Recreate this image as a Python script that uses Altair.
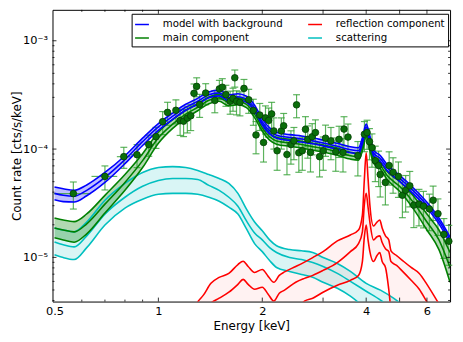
import altair as alt
import pandas as pd

# ---------------- data ----------------
E_MODEL = [0.5, 0.53, 0.57, 0.62, 0.7, 0.8, 0.9, 1.0, 1.1, 1.2, 1.3, 1.4, 1.5, 1.6, 1.7,
           1.8, 1.9, 2.0, 2.1, 2.2, 2.4, 2.6, 2.8, 3.0, 3.3, 3.6, 3.8, 3.9, 4.0, 4.1,
           4.2, 4.4, 4.6, 4.8, 5.0, 5.5, 6.0, 6.5, 7.0]

BLUE_MID = [3.9e-5, 3.75e-5, 3.67e-5, 4.16e-5, 5.47e-5, 7.98e-5, 1.17e-4, 1.6e-4, 2.01e-4, 2.43e-4,
            2.76e-4, 3.17e-4, 3.30e-4, 2.97e-4, 3.04e-4, 2.88e-4, 2.38e-4, 1.78e-4, 1.47e-4, 1.34e-4,
            1.28e-4, 1.24e-4, 1.19e-4, 1.14e-4, 1.06e-4, 9.85e-5, 9.65e-5, 1.19e-4, 1.6e-4, 1.24e-4,
            9.25e-5, 8.15e-5, 6.75e-5, 5.95e-5, 5.36e-5, 4.07e-5, 3.03e-5, 2.17e-5, 1.45e-5]
BLUE_HI = [4.47e-5, 4.30e-5, 4.16e-5, 4.66e-5, 6.08e-5, 8.68e-5, 1.26e-4, 1.72e-4, 2.15e-4, 2.59e-4,
           2.94e-4, 3.37e-4, 3.51e-4, 3.17e-4, 3.24e-4, 3.07e-4, 2.54e-4, 1.90e-4, 1.57e-4, 1.43e-4,
           1.36e-4, 1.32e-4, 1.27e-4, 1.21e-4, 1.13e-4, 1.05e-4, 1.03e-4, 1.27e-4, 1.70e-4, 1.32e-4,
           9.85e-5, 8.68e-5, 7.19e-5, 6.34e-5, 5.71e-5, 4.33e-5, 3.23e-5, 2.31e-5, 1.54e-5]
BLUE_LO = [3.40e-5, 3.27e-5, 3.24e-5, 3.71e-5, 4.92e-5, 7.33e-5, 1.08e-4, 1.49e-4, 1.88e-4, 2.28e-4,
           2.59e-4, 2.97e-4, 3.10e-4, 2.79e-4, 2.85e-4, 2.70e-4, 2.24e-4, 1.67e-4, 1.38e-4, 1.26e-4,
           1.20e-4, 1.16e-4, 1.12e-4, 1.07e-4, 9.95e-5, 9.25e-5, 9.06e-5, 1.12e-4, 1.50e-4, 1.16e-4,
           8.69e-5, 7.65e-5, 6.34e-5, 5.59e-5, 5.03e-5, 3.82e-5, 2.85e-5, 2.04e-5, 1.36e-5]

GREEN_MID = [1.87e-5, 1.79e-5, 1.72e-5, 2.04e-5, 3.1e-5, 4.92e-5, 7.82e-5, 1.27e-4, 1.70e-4, 2.10e-4,
             2.43e-4, 2.82e-4, 2.97e-4, 2.70e-4, 2.76e-4, 2.59e-4, 2.10e-4, 1.57e-4, 1.30e-4, 1.19e-4,
             1.14e-4, 1.10e-4, 1.05e-4, 1.01e-4, 9.45e-5, 8.69e-5, 8.5e-5, 1.03e-4, 1.38e-4, 1.05e-4,
             7.98e-5, 7.04e-5, 5.71e-5, 5.03e-5, 4.53e-5, 3.17e-5, 2.12e-5, 1.45e-5, 8.07e-6]
GREEN_HI = [2.31e-5, 2.21e-5, 2.14e-5, 2.52e-5, 3.74e-5, 5.82e-5, 9.06e-5, 1.43e-4, 1.87e-4, 2.28e-4,
            2.61e-4, 3.03e-4, 3.20e-4, 2.91e-4, 2.97e-4, 2.79e-4, 2.26e-4, 1.69e-4, 1.40e-4, 1.28e-4,
            1.23e-4, 1.18e-4, 1.13e-4, 1.09e-4, 1.02e-4, 9.35e-5, 9.15e-5, 1.11e-4, 1.48e-4, 1.13e-4,
            8.59e-5, 7.57e-5, 6.21e-5, 5.53e-5, 5.03e-5, 3.64e-5, 2.51e-5, 1.79e-5, 1.11e-5]
GREEN_LO = [1.52e-5, 1.45e-5, 1.38e-5, 1.65e-5, 2.57e-5, 4.16e-5, 6.75e-5, 1.13e-4, 1.55e-4, 1.93e-4,
            2.26e-4, 2.62e-4, 2.76e-4, 2.51e-4, 2.57e-4, 2.41e-4, 1.95e-4, 1.46e-4, 1.21e-4, 1.11e-4,
            1.06e-4, 1.02e-4, 9.76e-5, 9.39e-5, 8.78e-5, 8.08e-5, 7.9e-5, 9.57e-5, 1.28e-4, 9.76e-5,
            7.42e-5, 6.54e-5, 5.25e-5, 4.58e-5, 4.08e-5, 2.76e-5, 1.79e-5, 1.18e-5, 5.89e-6]

E_SCAT = [0.5, 0.53, 0.57, 0.62, 0.7, 0.8, 0.9, 1.0, 1.1, 1.2, 1.3, 1.4, 1.5, 1.6, 1.7,
          1.8, 1.9, 2.0, 2.1, 2.2, 2.4, 2.6, 2.8, 3.0, 3.3, 3.6, 4.0, 4.4, 4.8, 5.2]
CYAN_HI = [1.87e-5, 1.79e-5, 1.72e-5, 2.12e-5, 3.37e-5, 4.82e-5, 6.08e-5, 6.75e-5, 6.89e-5, 6.75e-5,
           6.34e-5, 5.82e-5, 5.35e-5, 4.82e-5, 3.9e-5, 2.79e-5, 2.12e-5, 1.76e-5, 1.45e-5, 1.28e-5,
           1.18e-5, 1.15e-5, 1.11e-5, 9.96e-6, 8.78e-6, 7.42e-6, 5.76e-6, 4.98e-6, 4.2e-6, 3.48e-6]
CYAN_MID = [1.39e-5, 1.31e-5, 1.25e-5, 1.58e-5, 2.51e-5, 3.59e-5, 4.53e-5, 5.13e-5, 5.35e-5, 5.35e-5,
            5.24e-5, 4.62e-5, 4.16e-5, 3.59e-5, 2.97e-5, 2.17e-5, 1.68e-5, 1.45e-5, 1.23e-5, 1.11e-5,
            9.96e-6, 9.55e-6, 8.96e-6, 8.24e-6, 7.11e-6, 6.01e-6, 4.87e-6, 4.03e-6, 3.27e-6, 2.7e-6]
CYAN_LO = [1.06e-5, 9.96e-6, 9.55e-6, 1.23e-5, 1.99e-5, 2.85e-5, 3.44e-5, 3.82e-5, 3.9e-5, 3.9e-5,
           3.82e-5, 3.59e-5, 3.3e-5, 2.91e-5, 2.51e-5, 1.83e-5, 1.34e-5, 1.13e-5, 9.35e-6, 8.07e-6,
           7.42e-6, 6.96e-6, 6.54e-6, 5.89e-6, 5.19e-6, 4.39e-6, 3.34e-6, 2.59e-6, 2.0e-6, 1.6e-6]

E_REFL = [1.25, 1.3, 1.35, 1.42, 1.5, 1.6, 1.7, 1.76, 1.82, 1.9, 2.0, 2.08, 2.16, 2.24, 2.32,
          2.5, 2.65, 2.8, 3.0, 3.3, 3.6, 3.8, 3.9, 3.95, 4.0, 4.05, 4.1, 4.2, 4.3, 4.38,
          4.45, 4.55, 4.65, 4.72, 4.9, 5.1, 5.4, 5.7, 6.0, 6.3, 6.5, 6.8]
RED_HI = [3.0e-6, 3.87e-6, 4.48e-6, 5.76e-6, 6.54e-6, 7.11e-6, 8.59e-6, 9.21e-6, 8.24e-6, 7.26e-6,
          7.74e-6, 6.68e-6, 5.89e-6, 6.82e-6, 7.34e-6, 8.24e-6, 9.05e-6, 9.96e-6, 1.13e-5, 1.42e-5,
          1.61e-5, 1.79e-5, 2.46e-5, 5.13e-5, 9.25e-5, 5.36e-5, 3.04e-5, 1.95e-5, 2.12e-5, 2.21e-5,
          1.87e-5, 1.58e-5, 1.45e-5, 1.15e-5, 1.04e-5, 9.35e-6, 8.07e-6, 7.11e-6, 5.64e-6, 4.39e-6,
          3.71e-6, 2.82e-6]
RED_MID = [2.19e-6, 2.7e-6, 3.2e-6, 3.79e-6, 4.2e-6, 4.77e-6, 5.64e-6, 6.27e-6, 5.64e-6, 5.08e-6,
           5.3e-6, 4.57e-6, 3.95e-6, 4.67e-6, 4.98e-6, 5.89e-6, 6.4e-6, 6.82e-6, 7.58e-6, 8.96e-6,
           1.13e-5, 1.34e-5, 1.72e-5, 3.04e-5, 3.91e-5, 2.91e-5, 2.12e-5, 1.45e-5, 1.55e-5, 1.58e-5,
           1.37e-5, 1.2e-5, 1.13e-5, 9.15e-6, 8.42e-6, 7.42e-6, 6.14e-6, 5.08e-6, 3.87e-6, 3.0e-6,
           2.59e-6, 2.0e-6]
RED_LO = [1.0e-6, 1.1e-6, 1.2e-6, 1.3e-6, 1.4e-6, 1.5e-6, 1.6e-6, 1.7e-6, 1.8e-6, 1.9e-6,
          2.0e-6, 2.1e-6, 2.2e-6, 2.4e-6, 2.6e-6, 3.1e-6, 3.95e-6, 4.2e-6, 4.77e-6, 5.53e-6,
          6.14e-6, 6.82e-6, 9.15e-6, 1.52e-5, 1.99e-5, 1.45e-5, 1.13e-5, 9.15e-6, 1.04e-5, 1.11e-5,
          9.15e-6, 8.07e-6, 5.08e-6, 3.34e-6, 2.5e-6, 2.0e-6, 1.6e-6, 1.3e-6, 1.1e-6, 1.0e-6,
          0.9e-6, 0.8e-6]

PT_E = [0.567, 0.700, 0.794, 0.867, 0.938, 0.984, 1.029, 1.063, 1.124, 1.156,
        1.183, 1.213, 1.241, 1.268, 1.291, 1.317, 1.371, 1.457, 1.502, 1.532,
        1.569, 1.614, 1.645, 1.665, 1.684, 1.723, 1.770, 1.827, 1.884, 1.918,
        1.967, 2.017, 2.043, 2.087, 2.129, 2.160, 2.208, 2.271, 2.307, 2.358,
        2.421, 2.470, 2.514, 2.552, 2.612, 2.668, 2.709, 2.759, 2.790, 2.851,
        2.931, 3.004, 3.05, 3.162, 3.265, 3.339, 3.427, 3.45, 3.543, 3.784,
        3.953, 4.024, 4.09, 4.158, 4.25, 4.346, 4.393, 4.547, 4.662, 4.786,
        4.96, 5.093, 5.205, 5.351, 5.497, 5.689, 5.861, 6.098, 6.252, 6.457,
        6.718, 6.942]
PT_RATE = [3.88e-5, 5.59e-5, 8.51e-5, 8.87e-5, 1.10e-4, 1.30e-4, 1.79e-4, 2.18e-4, 2.28e-4, 1.83e-4,
           1.81e-4, 1.93e-4, 2.03e-4, 3.27e-4, 3.79e-4, 2.58e-4, 3.29e-4, 2.81e-4, 3.59e-4, 3.72e-4,
           3.18e-4, 2.76e-4, 2.94e-4, 4.55e-4, 2.76e-4, 2.70e-4, 3.63e-4, 2.85e-4, 2.27e-4, 1.35e-4,
           2.06e-4, 1.15e-4, 1.94e-4, 1.84e-4, 2.11e-4, 1.47e-4, 9.65e-5, 1.47e-4, 1.64e-4, 8.91e-5,
           1.10e-4, 1.19e-4, 2.56e-4, 9.25e-5, 9.65e-5, 1.52e-4, 1.23e-4, 9.31e-5, 1.30e-4, 1.42e-4,
           8.51e-5, 9.65e-5, 1.26e-4, 1.19e-4, 9.45e-5, 1.23e-4, 9.31e-5, 1.53e-4, 1.29e-4, 8.69e-5,
           1.37e-4, 1.42e-4, 1.17e-4, 1.03e-4, 7.82e-5, 7.04e-5, 5.82e-5, 4.92e-5, 7.04e-5, 6.11e-5,
           5.59e-5, 3.75e-5, 4.16e-5, 4.57e-5, 3.04e-5, 3.10e-5, 2.97e-5, 2.80e-5, 3.37e-5, 2.53e-5,
           1.63e-5, 1.41e-5]
PT_REL = [0.28, 0.25, 0.22, 0.24, 0.22, 0.22, 0.24, 0.24, 0.25, 0.27,
          0.28, 0.27, 0.27, 0.22, 0.20, 0.24, 0.22, 0.23, 0.20, 0.20,
          0.22, 0.24, 0.24, 0.18, 0.25, 0.25, 0.21, 0.25, 0.27, 0.33,
          0.28, 0.34, 0.29, 0.30, 0.28, 0.32, 0.34, 0.32, 0.30, 0.35,
          0.34, 0.33, 0.24, 0.34, 0.34, 0.31, 0.33, 0.34, 0.32, 0.31,
          0.35, 0.34, 0.32, 0.33, 0.34, 0.32, 0.34, 0.30, 0.32, 0.35,
          0.31, 0.30, 0.32, 0.34, 0.36, 0.36, 0.38, 0.38, 0.34, 0.36,
          0.36, 0.38, 0.37, 0.36, 0.38, 0.37, 0.37, 0.37, 0.35, 0.37,
          0.40, 0.40]
PT_XERR = [0.07, 0.06, 0.036, 0.035, 0.03, 0.02, 0.018, 0.018, 0.018, 0.02,
           0.02, 0.02, 0.02, 0.02, 0.02, 0.02, 0.02, 0.025, 0.025, 0.025,
           0.025, 0.025, 0.025, 0.025, 0.025, 0.025, 0.025, 0.025, 0.025, 0.025,
           0.025, 0.035, 0.035, 0.035, 0.035, 0.035, 0.035, 0.035, 0.035, 0.035,
           0.035, 0.035, 0.035, 0.035, 0.035, 0.045, 0.045, 0.045, 0.045, 0.045,
           0.045, 0.045, 0.045, 0.045, 0.045, 0.045, 0.045, 0.045, 0.045, 0.045,
           0.06, 0.06, 0.06, 0.06, 0.06, 0.06, 0.06, 0.06, 0.06, 0.06,
           0.06, 0.08, 0.08, 0.08, 0.08, 0.08, 0.08, 0.08, 0.08, 0.08,
           0.08, 0.08]

# legend order (filled column by column): model, main | reflection, scattering
NAMES = ["model with background", "main component", "reflection component", "scattering"]
COLORS = ["#0000ff", "#008000", "#ff0000", "#00bfbf"]

X_LABELS = [0.5, 1, 2, 4, 6]
X_MAJOR = [1, 2, 3, 4, 5, 6]
X_MINOR = [0.6, 0.7, 0.8, 0.9]
Y_LABELS = [1e-5, 1e-4, 1e-3]
Y_MINOR = [4e-6, 5e-6, 6e-6, 7e-6, 8e-6, 9e-6,
           2e-5, 3e-5, 4e-5, 5e-5, 6e-5, 7e-5, 8e-5, 9e-5,
           2e-4, 3e-4, 4e-4, 5e-4, 6e-4, 7e-4, 8e-4, 9e-4]

# ---------------- tables ----------------
def band(E, lo, mid, hi, name):
    wide = pd.DataFrame({"E": E, "lo": lo, "mid": mid, "hi": hi, "comp": name})
    long = wide.melt(id_vars=["E", "comp"], value_vars=["lo", "mid", "hi"],
                     var_name="line", value_name="rate")
    return wide, long

blue_w, blue_l = band(E_MODEL, BLUE_LO, BLUE_MID, BLUE_HI, "model with background")
green_w, green_l = band(E_MODEL, GREEN_LO, GREEN_MID, GREEN_HI, "main component")
cyan_w, cyan_l = band(E_SCAT, CYAN_LO, CYAN_MID, CYAN_HI, "scattering")
red_w, red_l = band(E_REFL, RED_LO, RED_MID, RED_HI, "reflection component")

pts = pd.DataFrame({"E": PT_E, "rate": PT_RATE, "rel": PT_REL, "xerr": PT_XERR})
pts["ylo"] = pts["rate"] * (1 - pts["rel"])
pts["yhi"] = pts["rate"] * (1 + pts["rel"])
pts["xlo"] = pts["E"] - pts["xerr"]
pts["xhi"] = pts["E"] + pts["xerr"]

W, H = 402, 295
FONT = "DejaVu Sans"

xs = alt.Scale(type="log", domain=[0.4934, 7.0], nice=False)
ys = alt.Scale(type="log", domain=[3.91e-6, 1.93e-3], nice=False)

xaxis = alt.Axis(values=X_LABELS, format="~g", ticks=False, domain=False, grid=False,
                 labelFont=FONT, labelFontSize=11.5, labelColor="black", labelPadding=4,
                 labelFlush=False, title="Energy [keV]", titleFont=FONT, titleFontSize=12,
                 titleFontWeight="normal", titleColor="black", titleX=W / 2, titleY=19)
yaxis = alt.Axis(values=Y_LABELS, ticks=False, domain=False, grid=False,
                 labelExpr="datum.value >= 5e-4 ? '10⁻³' : (datum.value >= 5e-5 ? '10⁻⁴' : '10⁻⁵')",
                 labelFont=FONT, labelFontSize=11.5, labelColor="black", labelPadding=5,
                 labelFlush=False, title="Count rate [cts/s/keV]", titleFont=FONT,
                 titleFontSize=12, titleFontWeight="normal", titleColor="black",
                 titleX=-29, titleY=H / 2)

X = alt.X("E:Q", scale=xs, axis=xaxis)
def Yf(field):
    return alt.Y(f"{field}:Q", scale=ys, axis=yaxis)

color = alt.Color("comp:N", scale=alt.Scale(domain=NAMES, range=COLORS),
                  legend=alt.Legend(orient="none", legendX=80, legendY=4, columns=2, title=None,
                                    symbolType="stroke", symbolSize=196, symbolStrokeWidth=1.5,
                                    labelFont=FONT, labelFontSize=10.3, labelColor="black",
                                    labelOffset=13, columnPadding=22, rowPadding=0,
                                    padding=2.5, strokeColor="black", fillColor="white"))

def area(wide, col, op):
    return alt.Chart(wide).mark_area(fill=col, fillOpacity=op, clip=True,
                                     interpolate="monotone").encode(x=X, y=Yf("lo"), y2="hi")

def lines(long):
    return alt.Chart(long).mark_line(strokeWidth=1.6, clip=True, interpolate="monotone").encode(
        x=X, y=Yf("rate"), color=color, detail="line:N")

EB = "#34a034"
eb_y = alt.Chart(pts).mark_rule(color=EB, strokeWidth=1.2, opacity=0.8).encode(
    x=X, y=Yf("ylo"), y2="yhi")
eb_x = alt.Chart(pts).mark_rule(color=EB, strokeWidth=1.2, opacity=0.8).encode(
    x=alt.X("xlo:Q", scale=xs, axis=xaxis), x2="xhi", y=Yf("rate"))
cap_hi = alt.Chart(pts).mark_tick(orient="horizontal", size=7, thickness=1.2, color=EB,
                                  opacity=0.8).encode(x=X, y=Yf("yhi"))
cap_lo = alt.Chart(pts).mark_tick(orient="horizontal", size=7, thickness=1.2, color=EB,
                                  opacity=0.8).encode(x=X, y=Yf("ylo"))
points = alt.Chart(pts).mark_point(shape="circle", filled=True, size=45, fill="#0a6e0a",
                                   stroke="#043d04", strokeWidth=0.8, opacity=1).encode(
    x=X, y=Yf("rate"))

# inward ticks on all four sides
xmaj = pd.DataFrame({"E": X_MAJOR})
xmin = pd.DataFrame({"E": X_MINOR})
ymaj = pd.DataFrame({"rate": Y_LABELS})
ymin = pd.DataFrame({"rate": Y_MINOR})
tick_layers = []
for df, ln in [(xmaj, 4), (xmin, 2)]:
    tick_layers.append(alt.Chart(df).mark_rule(color="black", strokeWidth=0.8).encode(
        x=X, y=alt.value(0), y2=alt.value(ln)))
    tick_layers.append(alt.Chart(df).mark_rule(color="black", strokeWidth=0.8).encode(
        x=X, y=alt.value(H), y2=alt.value(H - ln)))
for df, ln in [(ymaj, 4), (ymin, 2)]:
    tick_layers.append(alt.Chart(df).mark_rule(color="black", strokeWidth=0.8).encode(
        y=Yf("rate"), x=alt.value(0), x2=alt.value(ln)))
    tick_layers.append(alt.Chart(df).mark_rule(color="black", strokeWidth=0.8).encode(
        y=Yf("rate"), x=alt.value(W), x2=alt.value(W - ln)))

chart = alt.layer(
    area(cyan_w, "#00bfbf", 0.15),
    area(red_w, "#ff0000", 0.05),
    area(green_w, "#008000", 0.3),
    area(blue_w, "#0000ff", 0.25),
    eb_y, eb_x, cap_hi, cap_lo,
    lines(cyan_l), lines(red_l), lines(green_l), lines(blue_l),
    points,
    *tick_layers,
).properties(
    width=W, height=H,
    padding={"left": 45, "top": 0, "right": 5, "bottom": 34},
    autosize=alt.AutoSizeParams(type="none"),
).configure(font=FONT).configure_view(stroke="black", strokeWidth=1)

chart.save("out.html", embed_options={"renderer": "svg", "actions": False})
